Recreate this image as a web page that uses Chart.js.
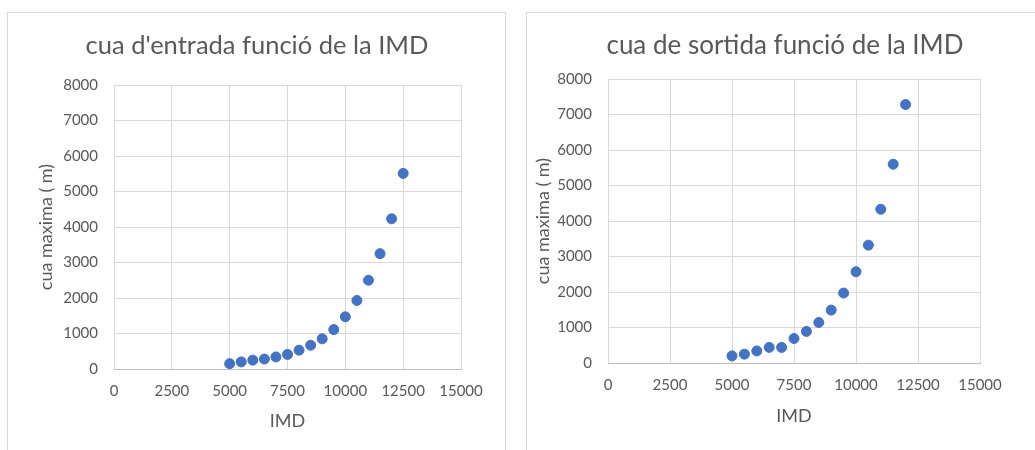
<!DOCTYPE html>
<html>
<head>
<meta charset="utf-8">
<script src="https://cdn.jsdelivr.net/npm/chart.js@4/dist/chart.umd.min.js"></script>
<style>
  body { margin: 0; background: #fff; width: 1035px; height: 450px; overflow: hidden; position: relative; }
  .panel { position: absolute; border: 1px solid #d9d9d9; background: #fff; }
  .box { position: absolute; left: 0; top: 0; }
  #leftPanel { left: 7px; top: 12px; width: 497px; height: 460px; }
  #rightPanel { left: 526px; top: 12px; width: 540px; height: 460px; }
  #leftBox { width: 498px; height: 438px; }
  #rightBox { width: 520px; height: 438px; }
</style>
</head>
<body>
<div class="panel" id="leftPanel"><div class="box" id="leftBox"><canvas id="leftChart"></canvas></div></div>
<div class="panel" id="rightPanel"><div class="box" id="rightBox"><canvas id="rightChart"></canvas></div></div>
<script>
// cua d'entrada
const entradaIMD = [5000, 5500, 6000, 6500, 7000, 7500, 8000, 8500, 9000, 9500, 10000, 10500, 11000, 11500, 12000, 12500];
const entradaCua = [150, 200, 250, 280, 340, 410, 530, 670, 850, 1110, 1470, 1930, 2500, 3250, 4230, 5510];

// cua de sortida
const sortidaIMD = [5000, 5500, 6000, 6500, 7000, 7500, 8000, 8500, 9000, 9500, 10000, 10500, 11000, 11500, 12000];
const sortidaCua = [200, 250, 340, 440, 440, 690, 890, 1140, 1490, 1970, 2570, 3320, 4330, 5600, 7280];

const xTicks = [0, 2500, 5000, 7500, 10000, 12500, 15000];
const yTicks = [0, 1000, 2000, 3000, 4000, 5000, 6000, 7000, 8000];

const FONT = 'Lato, "Open Sans", sans-serif';
const TEXT = '#595959';
const BLUE = '#4472C4';

function makeChart(id, title, xs, ys, cfg) {
    const points = xs.map((x, i) => ({ x: x, y: ys[i] }));
    return new Chart(document.getElementById(id), {
        type: 'scatter',
        data: {
            datasets: [{
                data: points,
                backgroundColor: BLUE,
                borderColor: BLUE,
                pointRadius: 5,
                pointHoverRadius: 5
            }]
        },
        options: {
            responsive: true,
            maintainAspectRatio: false,
            animation: false,
            layout: { padding: cfg.padding },
            plugins: {
                legend: { display: false },
                tooltip: { enabled: false },
                title: {
                    display: true,
                    text: title,
                    color: TEXT,
                    font: { family: FONT, size: cfg.titleSize, weight: 'normal' },
                    padding: cfg.titlePadding
                }
            },
            scales: {
                x: {
                    type: 'linear',
                    min: xTicks[0],
                    max: xTicks[xTicks.length - 1],
                    afterBuildTicks: s => { s.ticks = xTicks.map(v => ({ value: v })); },
                    afterFit: s => { s.height = cfg.xHeight; },
                    grid: { color: '#d9d9d9', drawTicks: false },
                    border: { color: '#bfbfbf' },
                    ticks: { color: TEXT, padding: 13, font: { family: FONT, size: 15 }, callback: v => v, maxRotation: 0 },
                    title: { display: true, text: 'IMD', color: TEXT, font: { family: FONT, size: 18 }, padding: { top: 4, bottom: cfg.xTitlePad } }
                },
                y: {
                    min: yTicks[0],
                    max: yTicks[yTicks.length - 1],
                    afterBuildTicks: s => { s.ticks = yTicks.map(v => ({ value: v })); },
                    afterFit: s => { s.width = cfg.yWidth; },
                    grid: { color: '#d9d9d9', drawTicks: false },
                    border: { display: false },
                    ticks: { color: TEXT, padding: 16, font: { family: FONT, size: 15 }, callback: v => v },
                    title: { display: true, text: 'cua maxima ( m)', color: TEXT, font: { family: FONT, size: 18 }, padding: { top: cfg.yTitlePad, bottom: 0 } }
                },
                // empty right-hand spacer so the title is centred on the panel
                spacer: {
                    position: 'right',
                    grid: { display: false },
                    border: { display: false },
                    ticks: { display: false },
                    afterFit: s => { s.width = cfg.spacerWidth; }
                }
            }
        }
    });
}

makeChart('leftChart', "cua d'entrada funció de la IMD", entradaIMD, entradaCua, {
    padding: { left: 20, right: 20, top: 5, bottom: 10 },
    titleSize: 25.5,
    titlePadding: { top: 12.7, bottom: 23.7 },
    xHeight: 72,
    yWidth: 86,
    spacerWidth: 25,
    xTitlePad: 9.2,
    yTitlePad: 7.2
});

makeChart('rightChart', 'cua de sortida funció de la IMD', sortidaIMD, sortidaCua, {
    padding: { left: 5, right: 9, top: 5, bottom: 10 },
    titleSize: 26,
    titlePadding: { top: 12.4, bottom: 17.4 },
    xHeight: 78,
    yWidth: 76,
    spacerWidth: 58,
    xTitlePad: 14.2,
    yTitlePad: 0.2
});
</script>
</body>
</html>
